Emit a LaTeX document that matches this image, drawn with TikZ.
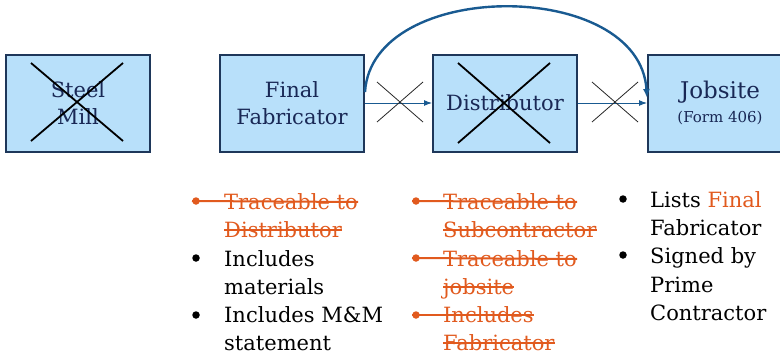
\documentclass[tikz,border=0pt]{standalone}
\usepackage{fontspec}
\setmainfont{DejaVu Serif}
\usetikzlibrary{arrows.meta}

\definecolor{boxfill}{RGB}{184,224,250}
\definecolor{boxline}{RGB}{30,55,90}
\definecolor{boxtext}{RGB}{25,40,85}
\definecolor{flow}{RGB}{25,90,145}
\definecolor{accent}{RGB}{225,90,30}

\tikzstyle{stage}=[rectangle,draw=boxline,line width=2pt,fill=boxfill,minimum width=144pt,minimum height=97pt,text=boxtext,align=center,font=\fontsize{21}{27}\selectfont]
\tikzstyle{cross}=[black,line width=1.8pt]
\tikzstyle{thincross}=[black!85,line width=0.8pt]
\tikzstyle{link}=[flow,line width=1pt,-{Latex[length=8pt,width=6pt]}]
\tikzstyle{item}=[anchor=base west,inner sep=0pt,font=\fontsize{21}{24}\selectfont]
\tikzstyle{dot}=[circle,fill,inner sep=0pt,minimum size=7.5pt]
\tikzstyle{strike}=[accent,line width=2pt]

\begin{document}
\begin{tikzpicture}[x=1pt,y=-1pt]
        \useasboundingbox (0,0) rectangle (780,356);
        \clip (0,0) rectangle (780,356);
        \draw (78,103)  node[stage](mill){Steel\\Mill};
        \draw (292,103) node[stage](fab){Final\\Fabricator};
        \draw (505,103) node[stage](dist){Distributor};
        \draw (720,103) node[stage,font=\fontsize{23}{26}\selectfont](site){Jobsite\\[-2pt]{\fontsize{15}{17}\selectfont(Form 406)}};
        %
        \draw[cross] (31,63) -- (123,141) (123,63) -- (31,141);
        \draw[cross] (458,63) -- (550,143) (550,63) -- (458,143);
        %
        \path[link] (fab) edge (dist) (dist) edge (site);
        \draw[thincross] (377,82) -- (423,122) (423,82) -- (377,122);
        \draw[thincross] (592,82) -- (638,122) (638,82) -- (592,122);
        \draw[flow,line width=2.4pt,-{Latex[length=9pt,width=7pt]}]
            ([yshift=11pt]fab.east) .. controls (372,-22) and (640,-22) .. ([yshift=5pt]site.west);
        %
        % list under the final fabricator
        \draw (196,201) node[dot,accent](b1){};
        \draw (224,209) node[item,text=accent](t1){Traceable to};
        \draw (224,237) node[item,text=accent](t2){Distributor};
        \draw (196,258) node[dot](b2){};
        \draw (224,266) node[item](t3){Includes};
        \draw (224,294) node[item](t4){materials};
        \draw (196,315) node[dot](b3){};
        \draw (224,322) node[item](t5){Includes M\&M};
        \draw (224,350) node[item](t6){statement};
        \draw[strike] ([xshift=-4pt]b1.center) -- ([yshift=7pt]t1.base east);
        \draw[strike] ([yshift=7pt]t2.base west) -- ([yshift=7pt]t2.base east);
        %
        % list under the distributor
        \draw (416,201) node[dot,accent](c1){};
        \draw (443,209) node[item,text=accent](u1){Traceable to};
        \draw (443,237) node[item,text=accent](u2){Subcontractor};
        \draw (416,258) node[dot,accent](c2){};
        \draw (443,266) node[item,text=accent](u3){Traceable to};
        \draw (443,294) node[item,text=accent](u4){jobsite};
        \draw (416,315) node[dot,accent](c3){};
        \draw (443,322) node[item,text=accent](u5){Includes};
        \draw (443,350) node[item,text=accent](u6){Fabricator};
        \draw[strike] ([xshift=-4pt]c1.center) -- ([yshift=7pt]u1.base east);
        \draw[strike] ([yshift=7pt]u2.base west) -- ([yshift=7pt]u2.base east);
        \draw[strike] ([xshift=-4pt]c2.center) -- ([yshift=7pt]u3.base east);
        \draw[strike] ([yshift=7pt]u4.base west) -- ([yshift=7pt]u4.base east);
        \draw[strike] ([xshift=-4pt]c3.center) -- ([yshift=7pt]u5.base east);
        \draw[strike] ([yshift=7pt]u6.base west) -- ([yshift=7pt]u6.base east);
        %
        % list under the jobsite
        \draw (623,199) node[dot](d1){};
        \draw (650,207) node[item](v1){Lists \textcolor{accent}{Final}};
        \draw (650,235) node[item](v2){Fabricator};
        \draw (623,255) node[dot](d2){};
        \draw (650,263) node[item](v3){Signed by};
        \draw (650,292) node[item](v4){Prime};
        \draw (650,320) node[item](v5){Contractor};
        %;
      \end{tikzpicture}
\end{document}
